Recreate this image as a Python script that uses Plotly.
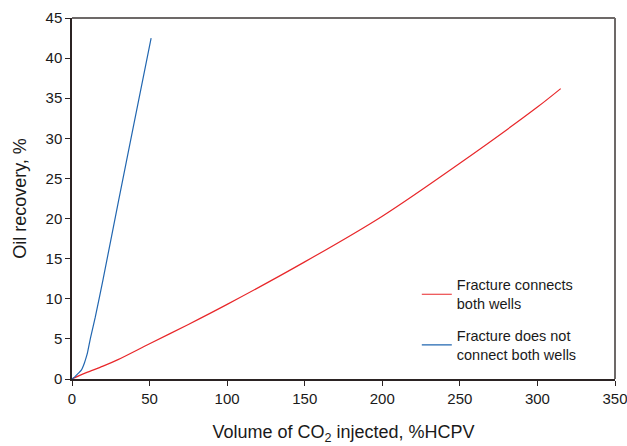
import plotly.graph_objects as go

# Data
red_x = [0, 5, 10, 20, 30, 50, 75, 100, 150, 200, 250, 300, 315]
red_y = [0, 0.45, 0.85, 1.6, 2.45, 4.4, 6.8, 9.3, 14.6, 20.3, 26.9, 33.9, 36.2]
red_name = "Fracture connects<br>both wells"

blue_x = [0, 2, 4, 6, 7, 8, 9, 10, 12, 15, 20, 30, 40, 51]
blue_y = [0, 0.3, 0.7, 1.1, 1.5, 2.0, 2.6, 3.3, 5.2, 7.7, 12.4, 22.2, 31.9, 42.5]
blue_name = "Fracture does not<br>connect both wells"

x_ticks = [0, 50, 100, 150, 200, 250, 300, 350]
y_ticks = [0, 5, 10, 15, 20, 25, 30, 35, 40, 45]

fig = go.Figure()
fig.add_trace(go.Scatter(x=red_x, y=red_y, mode="lines", name=red_name, legendgroup="a",
                         line=dict(color="#e8272a", width=1.2, shape="spline", smoothing=0.8)))
fig.add_trace(go.Scatter(x=blue_x, y=blue_y, mode="lines", name=blue_name, legendgroup="b",
                         line=dict(color="#2166b0", width=1.2, shape="spline", smoothing=0.6)))

axis_color = "#2b2323"
fig.update_layout(
    width=627, height=446,
    margin=dict(l=72, r=12, t=18, b=67),
    paper_bgcolor="white", plot_bgcolor="white",
    font=dict(family="Liberation Sans, Arial, sans-serif", size=15, color="#1a1a1a"),
    xaxis=dict(range=[0, 350], tickvals=x_ticks, ticks="outside", ticklen=5,
               tickcolor=axis_color, showline=True, linecolor=axis_color, linewidth=1.5,
               showgrid=False, zeroline=False, automargin=False, ticklabeloverflow="allow",
               title=dict(text="Volume of CO<sub>2</sub> injected, %HCPV", font=dict(size=18), standoff=20)),
    yaxis=dict(range=[0, 45], tickvals=y_ticks, ticks="outside", ticklen=5,
               tickcolor=axis_color, showline=True, linecolor=axis_color, linewidth=1.5,
               showgrid=False, zeroline=False, automargin=False, ticklabeloverflow="allow",
               title=dict(text="Oil recovery, %", font=dict(size=18), standoff=14)),
    legend=dict(x=0.635, y=0.305, xanchor="left", yanchor="top",
                bgcolor="rgba(0,0,0,0)", font=dict(size=14.5), tracegroupgap=10,
                itemwidth=30),
    showlegend=True,
)
# Top and right frame lines (grey)
fig.add_shape(type="line", xref="paper", yref="paper", x0=0, x1=1, y0=1, y1=1,
              line=dict(color="#6d6968", width=2))
fig.add_shape(type="line", xref="paper", yref="paper", x0=1, x1=1, y0=0, y1=1,
              line=dict(color="#6d6968", width=2))

fig.write_html("out.html")
